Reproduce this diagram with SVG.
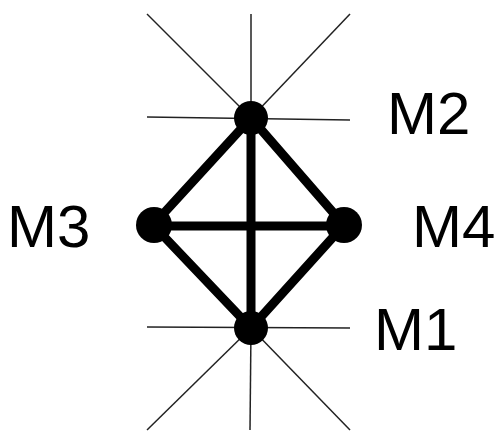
<svg xmlns="http://www.w3.org/2000/svg" width="501" height="432" viewBox="0 0 501 432">
<style>
.thin{stroke:#222;stroke-width:1.5;fill:none}
.thick{stroke:#000;stroke-width:9;fill:none;stroke-linecap:round}
.dot{fill:#000}
.lbl{font-family:"Liberation Sans",Arial,sans-serif;font-size:60px;fill:#000}
</style>
<rect width="501" height="432" fill="#fff"/>
<g id="connectors">
<line class="thin" x1="147" y1="14" x2="251" y2="118"/>
<line class="thin" x1="251" y1="14" x2="251" y2="118"/>
<line class="thin" x1="350" y1="14" x2="251" y2="118"/>
<line class="thin" x1="147" y1="117" x2="350" y2="120"/>
<line class="thin" x1="147" y1="327" x2="350" y2="328"/>
<line class="thin" x1="147" y1="430" x2="251" y2="328"/>
<line class="thin" x1="250" y1="430" x2="251" y2="328"/>
<line class="thin" x1="350" y1="430" x2="251" y2="328"/>
<line class="thick" x1="251" y1="118" x2="153" y2="225"/>
<line class="thick" x1="251" y1="118" x2="344" y2="225"/>
<line class="thick" x1="153" y1="225" x2="251" y2="328"/>
<line class="thick" x1="344" y1="225" x2="251" y2="328"/>
<line class="thick" x1="251" y1="118" x2="251" y2="328"/>
<line class="thick" x1="153" y1="226" x2="344" y2="226"/>
</g>
<g id="M2"><circle class="dot" cx="251" cy="118" r="17"/><text class="lbl" x="387" y="134">M2</text></g>
<g id="M3"><circle class="dot" cx="154" cy="225" r="18"/><text class="lbl" x="7" y="247">M3</text></g>
<g id="M4"><circle class="dot" cx="344" cy="225" r="18"/><text class="lbl" x="412" y="247">M4</text></g>
<g id="M1"><circle class="dot" cx="251" cy="328" r="17"/><text class="lbl" x="374" y="350">M1</text></g>
</svg>
